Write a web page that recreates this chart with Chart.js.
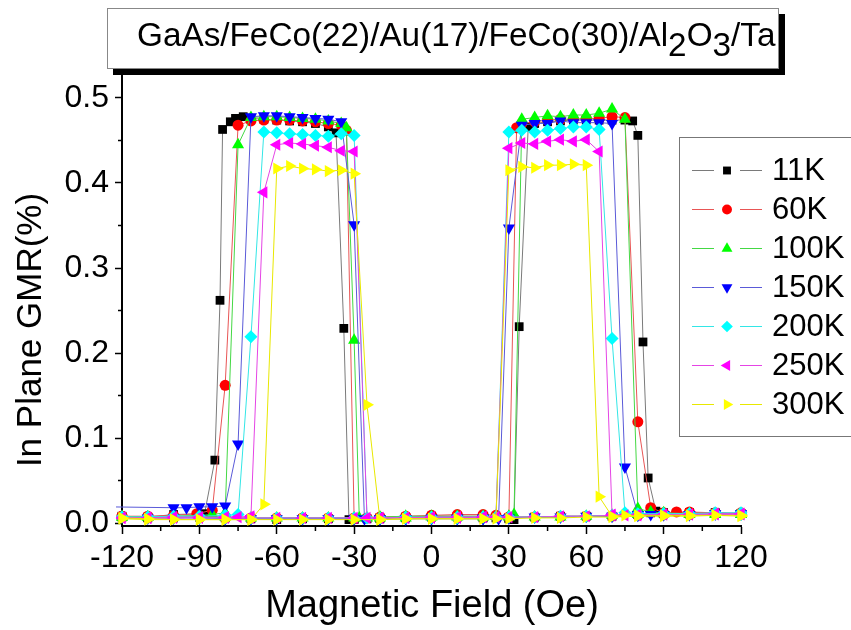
<!DOCTYPE html>
<html>
<head>
<meta charset="utf-8">
<title>In Plane GMR</title>
<script src="https://cdn.jsdelivr.net/npm/chart.js@4.4.1/dist/chart.umd.min.js"></script>
<style>
  html, body { margin: 0; padding: 0; background: #fff; }
  #wrap { position: relative; width: 851px; height: 630px; overflow: hidden; }
  #gmrChart { position: absolute; left: 0; top: 0; }
  #plotTitle {
    position: absolute; left: 107px; top: 8px; width: 641px; height: 59px; padding-left: 29px;
    border: 1px solid #888; background: #fff; box-shadow: 6px 6px 0 #000;
    font-family: "Liberation Sans", Arial, sans-serif; font-size: 33.3px;
    line-height: 52px; text-align: left; color: #000; white-space: nowrap;
  }
  #plotTitle sub { font-size: 1em; vertical-align: -10px; line-height: 0; }
</style>
</head>
<body>
<div id="wrap">
  <canvas id="gmrChart" width="851" height="630"></canvas>
  <div id="plotTitle">GaAs/FeCo(22)/Au(17)/FeCo(30)/Al<sub>2</sub>O<sub>3</sub>/Ta</div>
</div>
<script>
// field sweeps: +120 -> -120 first, then back -120 -> +120 (points in measurement order)
const field11K = [120,110,100,90,85,80,70,60,50,40,30,20,10,0,-10,-20,-25,-30,-32,-34,-37,-40,-45,-50,-55,-60,-65,-70,-73,-76,-78,-81,-82,-84,-88,-100,-110,-120,
  -120,-110,-100,-90,-80,-70,-60,-50,-40,-30,-20,-10,0,10,20,25,30,32,34,37.5,40,45,50,55,60,65,70,75,78,80,82,84,87,90,100,110,120];
const gmr11K = [.011,.012,.012,.012,.012,.010,.008,.008,.008,.007,.006,.006,.007,.007,.006,.005,.005,.004,.004,.229,.459,.466,.470,.472,.473,.474,.475,.476,.478,.476,.472,.463,.262,.074,.011,.010,.007,.007,
  .008,.006,.006,.007,.006,.005,.004,.005,.005,.005,.006,.007,.008,.008,.007,.006,.005,.004,.231,.466,.470,.472,.473,.474,.474,.474,.474,.474,.473,.456,.213,.053,.014,.012,.012,.012,.011];

const field60K = [120,110,100,90,80,70,60,50,40,30,20,10,0,-10,-20,-25,-30,-33,-35,-40,-45,-50,-55,-60,-65,-70,-75,-80,-85,-91,-100,-110,-120,
  -120,-110,-100,-90,-80,-70,-60,-50,-40,-30,-20,-10,0,10,20,25,30,33,35,40,45,50,55,60,65,70,75,80,85,90,95,100,110,120];
const gmr60K = [.012,.011,.010,.010,.009,.008,.008,.008,.007,.007,.008,.008,.008,.007,.006,.006,.005,.462,.468,.470,.472,.473,.474,.474,.474,.473,.468,.162,.015,.011,.009,.008,.008,
  .008,.007,.007,.007,.006,.006,.006,.006,.006,.006,.007,.008,.009,.010,.010,.009,.007,.465,.470,.472,.474,.475,.475,.476,.476,.478,.477,.119,.018,.012,.013,.013,.012,.011];

const field100K = [120,110,100,90,80,70,60,50,40,30,20,10,0,-10,-20,-25,-28,-30,-33,-35,-40,-45,-50,-55,-60,-65,-70,-75,-80,-85,-90,-100,-110,-120,
  -120,-110,-100,-90,-80,-70,-60,-50,-40,-30,-20,-10,0,10,20,25,30,32,35,40,45,50,55,60,65,70,75,80,85,90,100,110,120];
const gmr100K = [.010,.010,.010,.011,.010,.009,.008,.007,.007,.007,.007,.007,.007,.006,.006,.006,.006,.215,.465,.470,.473,.475,.476,.477,.478,.478,.477,.445,.012,.010,.009,.008,.007,.007,
  .007,.007,.008,.008,.007,.006,.006,.006,.006,.006,.007,.008,.008,.008,.008,.008,.008,.010,.475,.477,.479,.478,.480,.480,.482,.487,.475,.017,.013,.012,.011,.011,.010];

const field150K = [120,110,100,90,80,70,60,50,40,30,20,10,0,-10,-20,-26,-30,-35,-40,-45,-50,-55,-60,-65,-70,-75,-80,-85,-90,-95,-100,-125,
  -125,-110,-100,-90,-80,-70,-60,-50,-40,-30,-20,-10,0,10,20,26,30,35,40,45,50,55,60,65,70,75,80,85,90,100,110,120];
const gmr150K = [.011,.011,.010,.010,.009,.008,.008,.007,.007,.006,.006,.006,.006,.005,.005,.005,.351,.472,.475,.476,.477,.478,.479,.479,.478,.093,.020,.019,.019,.018,.018,.019,
  .006,.006,.006,.006,.005,.005,.005,.005,.005,.005,.005,.005,.005,.005,.005,.005,.347,.468,.470,.470,.473,.471,.471,.471,.470,.066,.010,.010,.010,.010,.011,.011];

const field200K = [120,110,100,90,80,70,60,50,40,30,20,10,0,-10,-20,-25,-30,-35,-40,-45,-50,-55,-60,-65,-70,-75,-80,-90,-100,-110,-120,
  -120,-110,-100,-90,-80,-70,-60,-50,-40,-30,-20,-10,0,10,20,25,30,35,40,45,50,55,60,65,70,75,80,90,100,110,120];
const gmr200K = [.012,.012,.011,.011,.010,.009,.008,.008,.007,.007,.007,.006,.006,.006,.006,.006,.456,.458,.455,.456,.457,.458,.459,.460,.219,.010,.009,.008,.008,.007,.007,
  .007,.007,.007,.006,.006,.006,.006,.006,.006,.006,.006,.007,.007,.007,.007,.007,.460,.462,.460,.462,.464,.466,.466,.463,.217,.012,.011,.011,.011,.011,.010];

const field250K = [120,110,100,90,80,70,60,50,40,30,20,10,0,-10,-20,-25,-30,-35,-40,-45,-50,-55,-60,-65,-70,-75,-80,-90,-100,-110,-120,
  -120,-110,-100,-90,-80,-70,-60,-50,-40,-30,-20,-10,0,10,20,25,30,35,40,45,50,55,60,65,70,75,80,90,100,110,120];
const gmr250K = [.011,.011,.010,.010,.009,.009,.008,.008,.007,.007,.007,.006,.006,.006,.006,.006,.437,.438,.442,.444,.446,.447,.445,.389,.008,.007,.007,.007,.007,.006,.006,
  .006,.006,.006,.006,.006,.006,.006,.006,.006,.006,.006,.006,.007,.007,.007,.007,.441,.447,.446,.449,.451,.449,.451,.437,.010,.009,.010,.010,.010,.010,.010];

const field300K = [120,110,100,90,80,70,60,50,40,30,20,10,0,-10,-20,-25,-30,-35,-40,-45,-50,-55,-60,-65,-70,-80,-90,-100,-110,-120,
  -120,-110,-100,-90,-80,-70,-60,-50,-40,-30,-20,-10,0,10,20,25,30,35,40,45,50,55,60,65,70,75,80,90,100,110,120];
const gmr300K = [.009,.009,.008,.008,.008,.007,.007,.006,.006,.005,.005,.005,.005,.005,.004,.139,.411,.415,.414,.416,.417,.420,.417,.022,.004,.004,.004,.004,.004,.005,
  .006,.005,.004,.004,.004,.004,.004,.004,.004,.004,.004,.005,.005,.005,.005,.005,.415,.419,.418,.421,.421,.422,.421,.031,.008,.009,.009,.009,.009,.009,.008];

const seriesLabels = ['11K', '60K', '100K', '150K', '200K', '250K', '300K'];
const xTickValues = [-120, -90, -60, -30, 0, 30, 60, 90, 120];
const xMinorValues = [-105, -75, -45, -15, 15, 45, 75, 105];
const yTickValues = [0, 0.1, 0.2, 0.3, 0.4, 0.5];
const yMinorValues = [0.05, 0.15, 0.25, 0.35, 0.45];

const FONT = '"Liberation Sans", Arial, sans-serif';

// marker + line look for each temperature
const styles = [
  { pointStyle: 'rect',     rotation: 0,   radius: 6.2, fill: '#000000', line: '#7a7a7a' },
  { pointStyle: 'circle',   rotation: 0,   radius: 5.5, fill: '#ff0000', line: '#e85555' },
  { pointStyle: 'triangle', rotation: 0,   radius: 7,   fill: '#00ff00', line: '#44d844' },
  { pointStyle: 'triangle', rotation: 180, radius: 7,   fill: '#0000ff', line: '#5a5ad8' },
  { pointStyle: 'rectRot',  rotation: 0,   radius: 6.5, fill: '#00ffff', line: '#33e6e6' },
  { pointStyle: 'triangle', rotation: -90, radius: 7,   fill: '#ff00ff', line: '#e544e5' },
  { pointStyle: 'triangle', rotation: 90,  radius: 7,   fill: '#ffff00', line: '#e8e800' }
];

const fields = [field11K, field60K, field100K, field150K, field200K, field250K, field300K];
const gmrs = [gmr11K, gmr60K, gmr100K, gmr150K, gmr200K, gmr250K, gmr300K];

const datasets = seriesLabels.map((label, i) => ({
  label: label,
  data: fields[i].map((x, j) => ({ x: x, y: gmrs[i][j] })),
  showLine: true,
  borderColor: styles[i].line,
  borderWidth: 1,
  backgroundColor: styles[i].fill,
  pointBackgroundColor: styles[i].fill,
  pointBorderWidth: 0,
  pointStyle: styles[i].pointStyle,
  pointRotation: styles[i].rotation,
  pointRadius: styles[i].radius,
  pointHoverRadius: styles[i].radius,
  tension: 0,
  order: seriesLabels.length - i,   // later temperatures drawn on top
  clip: { left: 6, right: 8, top: 8, bottom: 8 }
}));

// minor ticks, axis titles and the boxed legend
const extras = {
  id: 'extras',
  afterDraw(chart) {
    const ctx = chart.ctx;
    const xs = chart.scales.x, ys = chart.scales.y;
    const area = chart.chartArea;
    ctx.save();
    ctx.strokeStyle = '#000';
    ctx.lineWidth = 1.5;
    ctx.beginPath();
    xMinorValues.forEach(v => {
      const px = xs.getPixelForValue(v);
      ctx.moveTo(px, area.bottom); ctx.lineTo(px, area.bottom + 5);
    });
    yMinorValues.forEach(v => {
      const py = ys.getPixelForValue(v);
      ctx.moveTo(area.left, py); ctx.lineTo(area.left - 4, py);
    });
    ctx.stroke();

    ctx.fillStyle = '#000';
    ctx.textAlign = 'center';
    ctx.textBaseline = 'middle';
    ctx.font = '38px ' + FONT;
    ctx.fillText('Magnetic Field (Oe)', 432, 607);
    ctx.save();
    ctx.translate(31, 330);
    ctx.rotate(-Math.PI / 2);
    ctx.font = '35px ' + FONT;
    ctx.fillText('In Plane GMR(%)', 0, 0);
    ctx.restore();

    // legend box
    ctx.fillStyle = '#fff';
    ctx.fillRect(679, 137, 180, 299);
    ctx.strokeStyle = '#777';
    ctx.lineWidth = 1;
    ctx.strokeRect(679.5, 137.5, 180, 299);
    seriesLabels.forEach((label, i) => {
      const y = 170.5 + i * 39;
      const s = styles[i];
      ctx.strokeStyle = s.line;
      ctx.lineWidth = 1;
      ctx.beginPath();
      ctx.moveTo(692, y); ctx.lineTo(714, y);
      ctx.moveTo(740, y); ctx.lineTo(762, y);
      ctx.stroke();
      ctx.fillStyle = s.fill;
      Chart.helpers.drawPoint(ctx, { pointStyle: s.pointStyle, rotation: s.rotation, radius: s.radius * 0.9, borderWidth: 0 }, 727, y);
      ctx.fillStyle = '#000';
      ctx.textAlign = 'left';
      ctx.textBaseline = 'middle';
      ctx.font = '31px ' + FONT;
      ctx.fillText(label, 772, y + 1);
    });
    ctx.restore();
  }
};

const ctx = document.getElementById('gmrChart').getContext('2d');
const gmrChart = new Chart(ctx, {
  type: 'scatter',
  data: { datasets: datasets },
  options: {
    responsive: false,
    devicePixelRatio: 1,
    animation: false,
    events: [],
    layout: { padding: { top: 73, right: 110, left: 0, bottom: 0 } },
    plugins: { legend: { display: false }, tooltip: { enabled: false } },
    scales: {
      x: {
        type: 'linear',
        min: -120,
        max: 120,
        afterBuildTicks: scale => { scale.ticks = xTickValues.map(v => ({ value: v })); },
        afterFit: scale => { scale.height = 104; },
        border: { display: true, color: '#000', width: 2 },
        grid: { drawOnChartArea: false, drawTicks: true, tickLength: 8, tickColor: '#000', tickWidth: 1.5 },
        ticks: { color: '#000', font: { family: FONT, size: 32 }, padding: 5, maxRotation: 0, autoSkip: false }
      },
      y: {
        type: 'linear',
        min: -0.0035,
        max: 0.5294,
        afterBuildTicks: scale => { scale.ticks = yTickValues.map(v => ({ value: v })); },
        afterFit: scale => { scale.width = 122; },
        border: { display: true, color: '#000', width: 2 },
        grid: { drawOnChartArea: false, drawTicks: true, tickLength: 7, tickColor: '#000', tickWidth: 1.5 },
        ticks: { color: '#000', font: { family: FONT, size: 32 }, padding: 6, autoSkip: false,
                 callback: v => v.toFixed(1) }
      }
    }
  },
  plugins: [extras]
});
</script>
</body>
</html>
